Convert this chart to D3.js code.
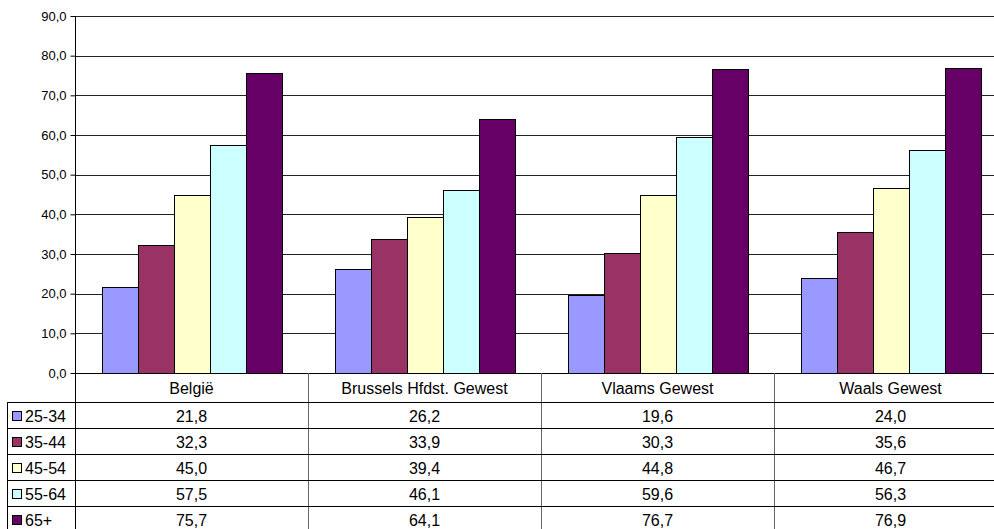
<!DOCTYPE html>
<html>
<head>
<meta charset="utf-8">
<script src="https://cdn.jsdelivr.net/npm/d3@7"></script>
<style>
  html, body { margin: 0; padding: 0; background: #fff; }
  svg { display: block; font-family: "Liberation Sans", Arial, sans-serif; }
</style>
</head>
<body>
<svg id="chart" width="994" height="529"></svg>
<script>
const categories = ["België", "Brussels Hfdst. Gewest", "Vlaams Gewest", "Waals Gewest"];
const seriesNames = ["25-34", "35-44", "45-54", "55-64", "65+"];
const s2534 = [21.8, 26.2, 19.6, 24.0];
const s3544 = [32.3, 33.9, 30.3, 35.6];
const s4554 = [45.0, 39.4, 44.8, 46.7];
const s5564 = [57.5, 46.1, 59.6, 56.3];
const s65 = [75.7, 64.1, 76.7, 76.9];
const seriesColors = ["#9999FF", "#993366", "#FFFFCC", "#CCFFFF", "#660066"];
const yTicks = [0, 10, 20, 30, 40, 50, 60, 70, 80, 90];

const seriesValues = [s2534, s3544, s4554, s5564, s65];
const fmt = v => d3.format(".1f")(v).replace(".", ",");

const svg = d3.select("#chart");
const pLeft = 75, pRight = 1007, pTop = 16, pBottom = 373;
const headerH = 29, rowH = 26, legendLeft = 7;

const x0 = d3.scaleBand().domain(categories).range([pLeft, pRight]).padding(0);
const groupW = 180;
const x1 = d3.scaleBand().domain(seriesNames).range([0, groupW]).padding(0);
const y = d3.scaleLinear().domain([0, 90]).range([pBottom, pTop]);

// gridlines
svg.append("g").selectAll("line").data(yTicks.filter(t => t > 0)).join("line")
  .attr("x1", pLeft).attr("x2", pRight)
  .attr("y1", d => Math.round(y(d)) + 0.5).attr("y2", d => Math.round(y(d)) + 0.5)
  .attr("stroke", "#222").attr("stroke-width", 1);

// bars
const off = (x0.bandwidth() - groupW) / 2;
seriesNames.forEach((name, si) => {
  svg.append("g").selectAll("rect").data(categories).join("rect")
    .attr("x", c => Math.round(x0(c) + off + x1(name)) + 0.5)
    .attr("y", (c, i) => Math.round(y(seriesValues[si][i])) + 0.5)
    .attr("width", Math.round(x1.bandwidth()))
    .attr("height", (c, i) => Math.round(y(0)) - Math.round(y(seriesValues[si][i])))
    .attr("fill", seriesColors[si])
    .attr("stroke", "#000").attr("stroke-width", 1);
});

// y axis
const yAxis = d3.axisLeft(y).tickValues(yTicks).tickSize(5).tickPadding(4).tickFormat(fmt);
const gy = svg.append("g").attr("transform", `translate(${pLeft + 0.5},0)`).call(yAxis);
gy.select(".domain").remove();
gy.selectAll(".tick line").attr("stroke", "#000");
gy.selectAll(".tick text").attr("font-size", 13).attr("fill", "#000")
  .attr("font-family", "'Liberation Sans', Arial, sans-serif");
svg.append("line").attr("x1", pLeft + 0.5).attr("x2", pLeft + 0.5)
  .attr("y1", pTop).attr("y2", pBottom + headerH + rowH * seriesNames.length)
  .attr("stroke", "#000");

// x axis baseline
svg.append("line").attr("x1", pLeft).attr("x2", pRight)
  .attr("y1", Math.round(y(0)) + 0.5).attr("y2", Math.round(y(0)) + 0.5)
  .attr("stroke", "#000");

// data table
const tableBottom = pBottom + headerH + rowH * seriesNames.length;
const table = svg.append("g");
table.selectAll("line.v").data(categories.slice(1)).join("line")
  .attr("class", "v")
  .attr("x1", c => Math.round(x0(c)) + 0.5).attr("x2", c => Math.round(x0(c)) + 0.5)
  .attr("y1", pBottom).attr("y2", tableBottom)
  .attr("stroke", "#666");
table.append("line").attr("x1", legendLeft + 0.5).attr("x2", legendLeft + 0.5)
  .attr("y1", pBottom + headerH).attr("y2", tableBottom).attr("stroke", "#000");
const rowLines = d3.range(seriesNames.length + 1).map(i => pBottom + headerH + i * rowH);
table.selectAll("line.h").data(rowLines).join("line")
  .attr("class", "h")
  .attr("x1", legendLeft).attr("x2", pRight)
  .attr("y1", d => d + 0.5).attr("y2", d => d + 0.5)
  .attr("stroke", "#000");
table.selectAll("text.hd").data(categories).join("text")
  .attr("class", "hd")
  .attr("x", c => x0(c) + x0.bandwidth() / 2)
  .attr("y", pBottom + headerH / 2 + 1)
  .attr("text-anchor", "middle").attr("dominant-baseline", "central")
  .attr("font-size", 16).attr("fill", "#000")
  .text(c => c);
seriesNames.forEach((name, si) => {
  const cy = pBottom + headerH + si * rowH + rowH / 2 + 1;
  table.append("rect")
    .attr("x", 12.5).attr("y", Math.round(cy - 5) + 0.5)
    .attr("width", 9).attr("height", 9)
    .attr("fill", seriesColors[si]).attr("stroke", "#000");
  table.append("text")
    .attr("x", 25).attr("y", cy)
    .attr("dominant-baseline", "central")
    .attr("font-size", 16).attr("fill", "#000")
    .text(name);
  table.selectAll(null).data(categories).join("text")
    .attr("x", c => x0(c) + x0.bandwidth() / 2)
    .attr("y", cy)
    .attr("text-anchor", "middle").attr("dominant-baseline", "central")
    .attr("font-size", 16).attr("fill", "#000")
    .text((c, i) => fmt(seriesValues[si][i]));
});
</script>
</body>
</html>
